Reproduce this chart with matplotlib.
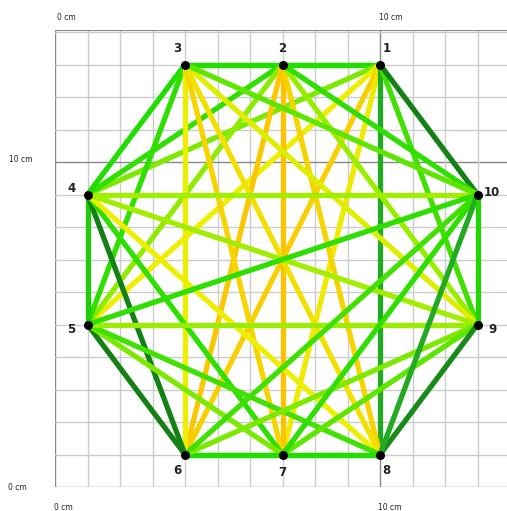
import matplotlib
matplotlib.use("Agg")
from matplotlib import pyplot as plt
from matplotlib.colors import LinearSegmentedColormap

# vertex positions in cm
names = ["1", "2", "3", "4", "5", "6", "7", "8", "9", "10"]
xs = [10, 7, 4, 1, 1, 4, 7, 10, 13, 13]
ys = [13, 13, 13, 9, 5, 1, 1, 1, 5, 9]

# edges (vertex numbers) and their weight, 0 = dark green ... 1 = orange
edges = [(1, 3), (1, 2), (2, 3),
         (1, 4), (1, 5), (1, 6), (1, 7), (1, 8), (1, 9), (1, 10),
         (2, 4), (2, 5), (2, 6), (2, 7), (2, 8), (2, 9), (2, 10),
         (3, 4), (3, 5), (3, 6), (3, 7), (3, 8), (3, 9), (3, 10),
         (4, 5), (4, 6), (4, 7), (4, 8), (4, 9), (4, 10),
         (5, 6), (5, 7), (5, 8), (5, 9), (5, 10),
         (6, 8), (6, 7), (7, 8),
         (6, 9), (6, 10), (7, 9), (7, 10),
         (8, 9), (8, 10), (9, 10)]
weights = [0.4, 0.4, 0.4,
           0.55, 0.8, 0.92, 0.82, 0.25, 0.45, 0.05,
           0.42, 0.58, 0.95, 0.97, 0.9, 0.6, 0.42,
           0.4, 0.42, 0.8, 0.9, 0.85, 0.76, 0.5,
           0.35, 0.05, 0.42, 0.8, 0.62, 0.62,
           0.05, 0.55, 0.45, 0.6, 0.42,
           0.4, 0.4, 0.4,
           0.55, 0.45, 0.5, 0.42,
           0.1, 0.25, 0.38]

cmap = LinearSegmentedColormap.from_list("edges", [
    (0.0, "#117711"), (0.25, "#22aa22"), (0.4, "#22dd00"),
    (0.6, "#99ee00"), (0.8, "#eeee00"), (1.0, "#ffbb00")])

fig = plt.figure(figsize=(5.07, 5.11), dpi=100)
ax = fig.add_axes([55 / 507, 24 / 511, 452 / 507, 457 / 511])
ax.set_xlim(0, 452 / 32.5)
ax.set_ylim(0, 457 / 32.5)
ax.axis("off")

# grid
for i in range(0, 15):
    c = "#888888" if i in (0, 10) else "#cccccc"
    ax.axvline(i, color=c, lw=1, zorder=0)
    ax.axhline(i, color=c, lw=1, zorder=0)
ax.axhline(457 / 32.5, color="#888888", lw=1.5, zorder=0)

for (a, b), w in zip(edges, weights):
    ax.plot([xs[a - 1], xs[b - 1]], [ys[a - 1], ys[b - 1]],
            color=cmap(w), lw=3.8, solid_capstyle="butt", zorder=1)

ax.scatter(xs, ys, s=30, color="black", zorder=3)

offsets = {"1": (0.2, 0.5), "2": (0, 0.5), "3": (-0.25, 0.5), "4": (-0.5, 0.2),
           "5": (-0.5, -0.15), "6": (-0.25, -0.5), "7": (0, -0.55), "8": (0.2, -0.5),
           "9": (0.45, -0.15), "10": (0.45, 0.05)}
for n, x, y in zip(names, xs, ys):
    dx, dy = offsets[n]
    ax.text(x + dx, y + dy, n, ha="center", va="center", fontsize=8.5,
            fontweight="bold", color="#222222")

# cm labels
small = dict(fontsize=5.5, color="#222222", ha="center", va="center")
fig.text(66 / 507, 1 - 17 / 511, "0 cm", **small)
fig.text(391 / 507, 1 - 17 / 511, "10 cm", **small)
fig.text(21 / 507, 1 - 160 / 511, "10 cm", **small)
fig.text(17 / 507, 1 - 487 / 511, "0 cm", **small)
fig.text(63 / 507, 1 - 507 / 511, "0 cm", **small)
fig.text(390 / 507, 1 - 507 / 511, "10 cm", **small)

fig.savefig("out.png", dpi=100)
